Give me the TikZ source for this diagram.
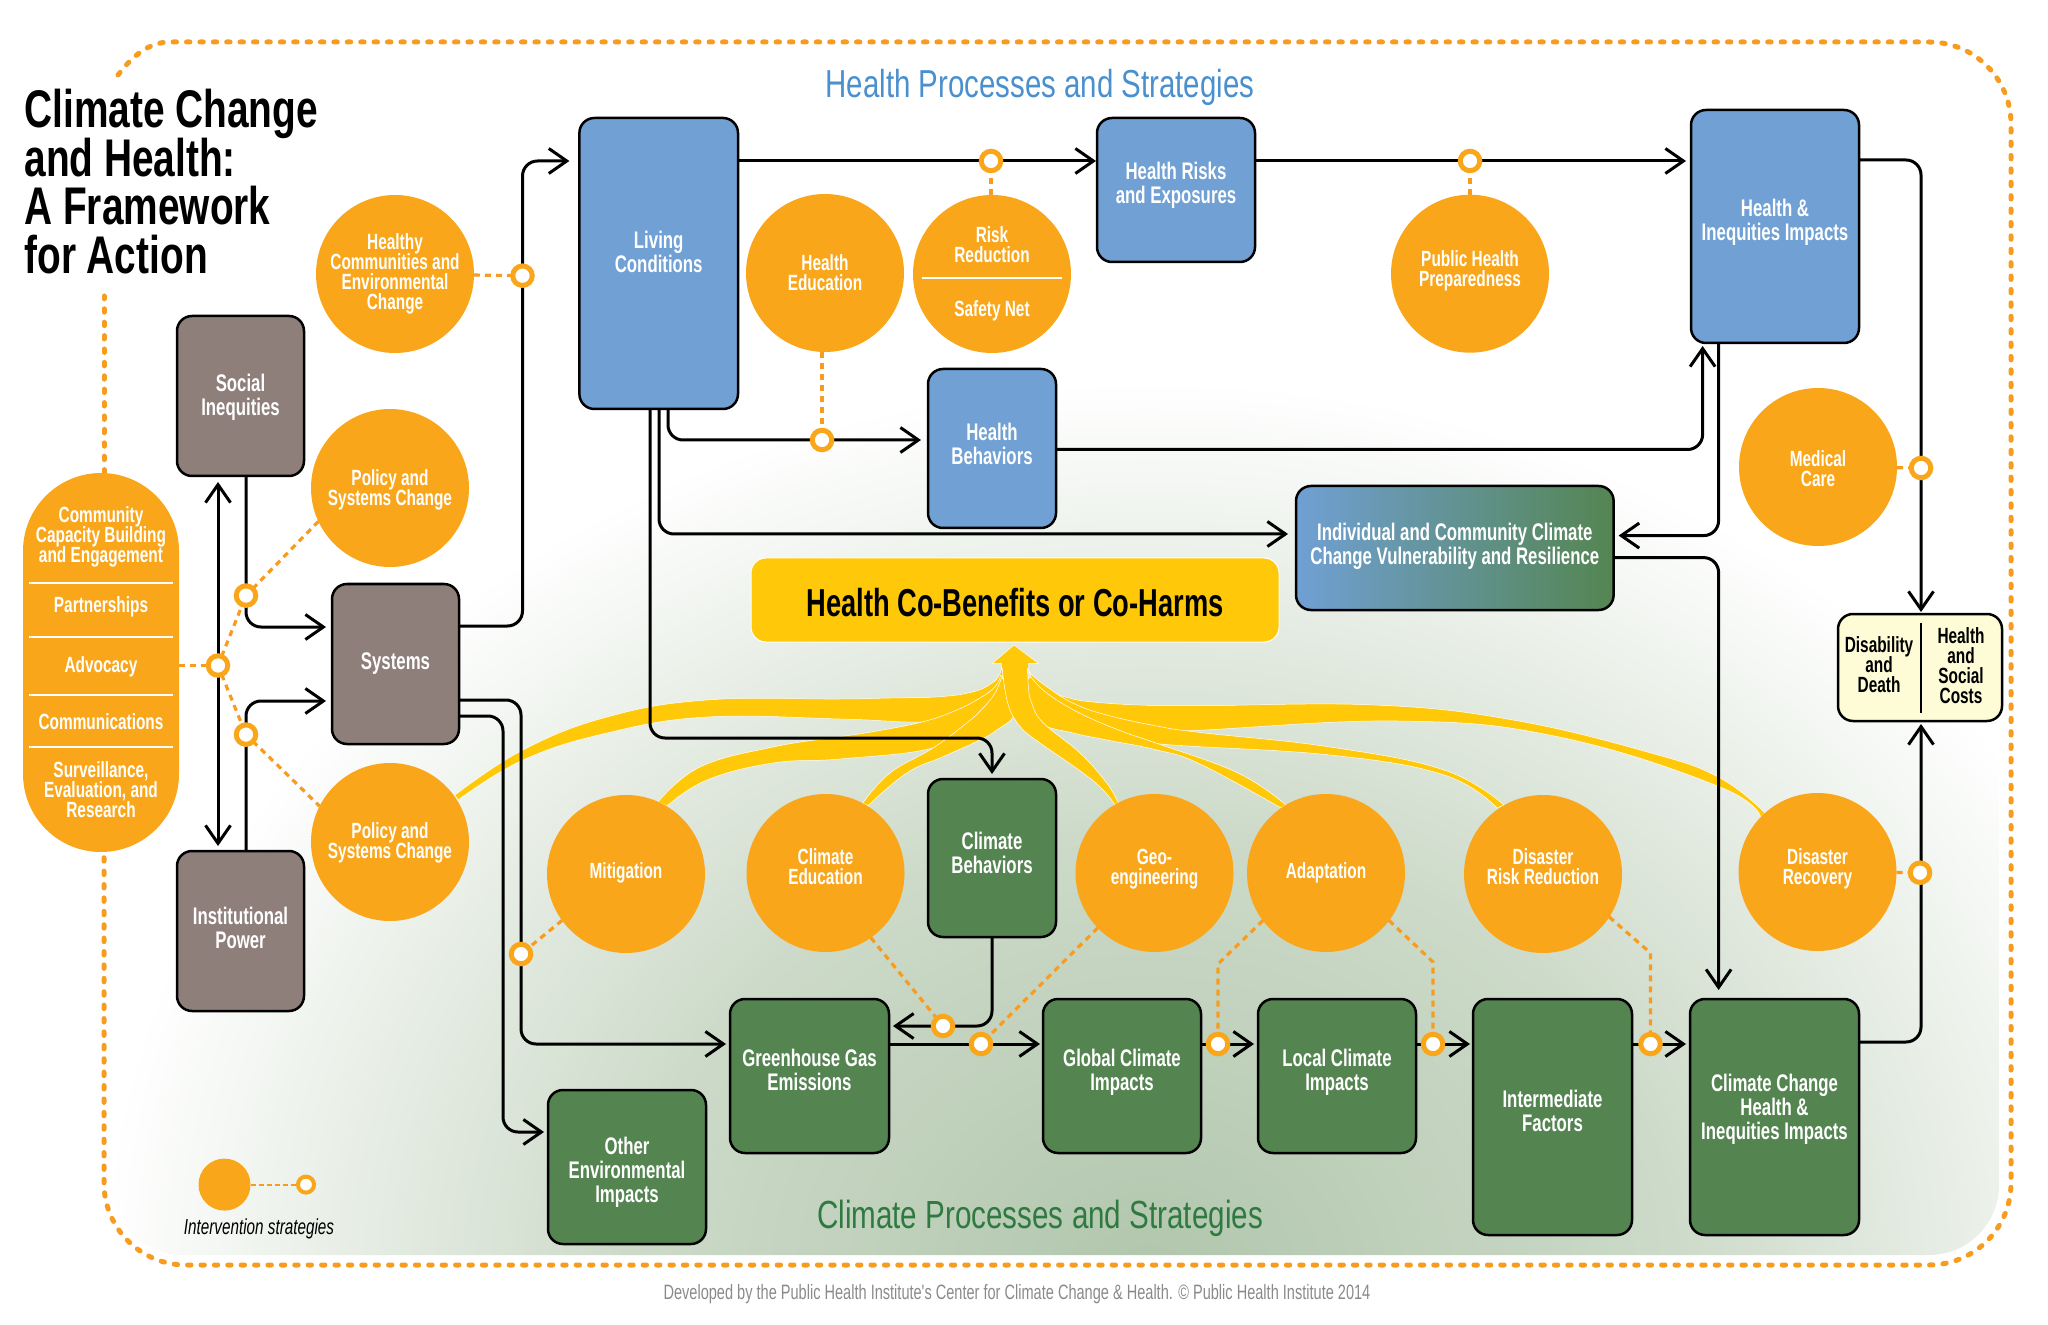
\documentclass[tikz,border=0pt]{standalone}
\usepackage{fontspec}
\usetikzlibrary{arrows.meta,backgrounds}
\newfontfamily\kfont[FakeStretch=0.7]{Liberation Sans}
\newfontfamily\kwide[FakeStretch=0.755]{Liberation Sans}
\newfontfamily\ktitle[FakeStretch=0.733]{Liberation Sans}
\lineskiplimit=-20pt
\pgfdeclareradialshading{kglow}{\pgfpointorigin}{rgb(0bp)=(0.694,0.776,0.678); rgb(12.5bp)=(0.804,0.855,0.788); rgb(25bp)=(1,1,1); rgb(50bp)=(1,1,1)}
\pgfdeclarelayer{kbase}
\pgfdeclarelayer{klines}
\pgfsetlayers{kbase,klines,main}
\newcommand{\kflow}[2]{\filldraw[kband] plot[smooth,tension=0.7] coordinates {#1} -- plot[smooth,tension=0.7] coordinates {#2} -- cycle;}
\tikzset{
  kbox/.style={rectangle,draw=black,line width=1.25pt,rounded corners=7.5pt,outer sep=0pt,inner sep=0pt,
    text=white,align=center,font=\kfont\bfseries\fontsize{12}{12}\selectfont},
  brownbox/.style={kbox,fill=kBrown,minimum width=63.5pt,minimum height=80pt},
  bluebox/.style={kbox,fill=kBlue},
  greenbox/.style={kbox,fill=kGreen},
  kcirc/.style={circle,fill=kOrange,minimum size=79pt,inner sep=0pt,outer sep=0pt,
    text=white,align=center,font=\kfont\bfseries\fontsize{11}{10}\selectfont},
  kring/.style={circle,draw=kOrange,fill=white,line width=2.5pt,minimum size=9.75pt,inner sep=0pt,outer sep=0pt},
  blacktext/.style={inner sep=0pt,align=center,font=\kfont\bfseries\fontsize{11}{10}\selectfont},
  klink/.style={draw=black,line width=1.5pt,rounded corners=7.5pt,shorten >=2.5pt,shorten <=0pt,
    >={Straight Barb[length=9pt,width=12.5pt]}},
  kdash/.style={draw=kDash,line width=1.6pt,dash pattern=on 3pt off 2.5pt},
  kborder/.style={draw=kDash,line width=2.5pt,line cap=round,dash pattern=on 1.7pt off 5pt},
  kband/.style={fill=kYellow,draw=white,line width=0.25pt},
  kline/.style={draw=white,line width=0.8pt}
}
\begin{document}
\begin{tikzpicture}[x=0.5pt,y=-0.5pt]
  \definecolor{kBrown}{HTML}{8E7F7B}
  \definecolor{kBlue}{HTML}{70A0D4}
  \definecolor{kGreen}{HTML}{548551}
  \definecolor{kOrange}{HTML}{FAA61A}
  \definecolor{kDash}{HTML}{F89C20}
  \definecolor{kYellow}{HTML}{FFC90A}
  \definecolor{kCream}{HTML}{FEFCD7}
  \definecolor{kHeadBlue}{HTML}{4A8FCE}
  \definecolor{kHeadGreen}{HTML}{2F7A41}
  \definecolor{kFoot}{HTML}{8A8A8A}
  \useasboundingbox (0,0) rectangle (2048,1325);

  \begin{pgfonlayer}{kbase}
    \begin{scope}
      \clip[rounded corners=35pt] (112,50) rectangle (1999,1255);
      \path[shading=kglow] (1150,1280) ellipse [x radius=1050,y radius=900];
    \end{scope}
    \kflow{(1001.7,666.7) (999.3,675) (991.7,683.3) (973.3,691.7) (940,696.7) (890,698) (840,699) (707,700) (607,717) (523,750) (455,795)}
          {(458,800) (523,760) (607,733) (707,717) (840,719) (923,722) (960,715) (990,695) (1003,675)}
    \kflow{(1000.7,675) (995,686.7) (980,698) (956.7,710) (923.3,721.7) (873,731.7) (840,736.7) (773,747) (700,767) (658,802)}
          {(667,806) (707,780) (773,763) (840,759) (933,748) (967,725) (985,712) (1000,690) (1003,678)}
    \kflow{(1001.3,678) (995,693) (983,708) (966.7,723) (933,748) (890,773) (862.7,803)}
          {(868,805.7) (906.7,773) (943,756.7) (980,740) (996.7,730) (1013.3,716.7) (1012,700) (1008,680)}
    \kflow{(1028.3,669.3) (1035,680) (1046.7,690) (1066.7,697.3) (1090,701.7) (1140,705) (1200,705.7) (1375,705) (1513,720) (1651,753) (1720,778) (1765,813)}
          {(1761,818) (1720,787) (1559,737) (1398,721) (1178,731) (1120,726) (1060,705) (1032,680)}
    \kflow{(1030,673.3) (1046.7,686.7) (1073.3,703.3) (1106.7,715) (1156.7,726) (1200,732.5) (1330,747) (1444,770) (1504,805)}
          {(1497,808) (1444,775) (1330,755) (1160,744) (1123,735) (1060,712) (1032,686)}
    \kflow{(1030.7,676.7) (1046.7,693) (1080,713.3) (1123,731.7) (1156.7,743.3) (1238,773) (1286,805)}
          {(1281,808) (1200,764) (1157,750) (1107,740) (1073,733) (1040,723) (1028,700) (1027,680)}
    \kflow{(1002,664) (1002.3,670) (1005,690) (1008.3,705) (1013.3,716.7) (1023.3,730) (1040,743) (1083,773) (1103,790) (1115,805)}
          {(1118.3,803) (1106.7,783) (1080,753) (1043.3,723) (1031.7,703) (1028.3,686.7) (1027.7,664)}
    \filldraw[kband] (1014,645) -- (1038.3,663.3) -- (992.3,663.3) -- cycle;
    \fill[kYellow] (1002,661) rectangle (1027.5,668);
  \end{pgfonlayer}

  \node[inner sep=0pt,anchor=north west,align=left,font=\ktitle\bfseries\fontsize{26.5}{24.3}\selectfont] (title) at (24,89)
    {Climate Change\\and Health:\\A Framework\\for Action};
  \node[inner sep=0pt,text=kHeadBlue,font=\kwide\fontsize{19.5}{20}\selectfont] (healthhead) at (1040,87) {Health Processes and Strategies};
  \node[inner sep=0pt,text=kHeadGreen,font=\kwide\fontsize{19.6}{20}\selectfont] (climhead) at (1040,1218) {Climate Processes and Strategies};
  \node[inner sep=0pt,text=kFoot,font=\kfont\fontsize{10.4}{10}\selectfont] (footer) at (1017,1294)
    {Developed by the Public Health Institute's Center for Climate Change \& Health. \textcopyright\ Public Health Institute 2014};

  \node[rectangle,fill=kOrange,rounded corners=39pt,minimum width=78pt,minimum height=189.5pt,inner sep=0pt,outer sep=0pt,
        text=white,align=center,font=\kfont\bfseries\fontsize{11}{10}\selectfont] (pill) at (101,662.5)
    {Community\\Capacity Building\\and Engagement\\[15pt]Partnerships\\[20pt]Advocacy\\[18.5pt]Communications\\[14pt]Surveillance,\\Evaluation, and\\Research};
  \foreach \y in {583,637,695,747}
    \draw[kline] ([xshift=3pt]pill.west |- 0,\y) -- ([xshift=-3pt]pill.east |- 0,\y);

  \node[brownbox,text height=22pt] (social) at (240.5,396) {Social\\Inequities};
  \node[brownbox] (systems) at (395.5,664) {Systems};
  \node[brownbox,text depth=3.3pt] (instit) at (240.5,931) {Institutional\\Power};

  \node[bluebox,minimum width=79.3pt,minimum height=145.5pt,text depth=11.4pt] (living) at (658.7,263.5) {Living\\Conditions};
  \node[bluebox,minimum width=79pt,minimum height=72pt,text depth=7pt] (risks) at (1176,190) {Health Risks\\and Exposures};
  \node[bluebox,minimum width=64pt,minimum height=79.5pt,text depth=4.5pt] (behav) at (992,448.5) {Health\\Behaviors};
  \node[bluebox,minimum width=84pt,minimum height=116.5pt,text depth=6.5pt] (impacts) at (1775,226.5) {Health \&\\Inequities Impacts};
  \node[kbox,left color=kBlue,right color=kGreen,minimum width=158.8pt,minimum height=62pt,text depth=4.5pt] (vuln) at (1454.8,548)
    {Individual and Community Climate\\Change Vulnerability and Resilience};
  \node[kbox,draw=white,line width=0.5pt,fill=kYellow,minimum width=264pt,minimum height=42pt,text=black,text height=16.5pt,
        font=\kfont\bfseries\fontsize{19.5}{19}\selectfont] (cobenefit) at (1015,600) {Health Co-Benefits or Co-Harms};

  \node[greenbox,minimum width=64pt,minimum height=79pt,text depth=5pt] (cbehav) at (992,858) {Climate\\Behaviors};
  \node[greenbox,minimum width=79.5pt,minimum height=77pt,text depth=6.5pt] (ghg) at (809.5,1076) {Greenhouse Gas\\Emissions};
  \node[greenbox,minimum width=79pt,minimum height=77pt,text depth=6.5pt] (global) at (1122,1076) {Global Climate\\Impacts};
  \node[greenbox,minimum width=79pt,minimum height=77pt,text depth=6.5pt] (local) at (1337,1076) {Local Climate\\Impacts};
  \node[greenbox,minimum width=79.5pt,minimum height=118pt,text depth=6.5pt] (inter) at (1552.5,1117) {Intermediate\\Factors};
  \node[greenbox,minimum width=84.5pt,minimum height=118pt,text depth=10pt] (climhealth) at (1774.5,1117) {Climate Change\\Health \&\\Inequities Impacts};
  \node[greenbox,minimum width=79pt,minimum height=77pt,text height=37.5pt] (other) at (627,1167) {Other\\Environmental\\Impacts};

  \node[kbox,fill=kCream,minimum width=82pt,minimum height=53.5pt] (disab) at (1920,667.5) {};
  \node[blacktext] (disabtext) at (1879,665) {Disability\\and\\Death};
  \node[blacktext] (coststext) at (1961,666) {Health\\and\\Social\\Costs};
  \draw[line width=1.25pt] (1921,623) -- (1921,713);

  \node[kcirc] (healthy) at (395,274) {Healthy\\Communities and\\Environmental\\Change};
  \node[kcirc,text height=20pt] (policyu) at (390,488) {Policy and\\Systems Change};
  \node[kcirc,text depth=1.5pt] (policyl) at (390,842) {Policy and\\Systems Change};
  \node[kcirc,text depth=3.5pt] (mitig) at (626,874) {Mitigation};
  \node[kcirc,text depth=6pt] (cedu) at (825.5,873) {Climate\\Education};
  \node[kcirc,text depth=6pt] (geo) at (1154.5,873) {Geo-\\engineering};
  \node[kcirc] (adapt) at (1326,873) {Adaptation};
  \node[kcirc,text depth=7.5pt] (drr) at (1543,874) {Disaster\\Risk Reduction};
  \node[kcirc,text depth=5pt] (recov) at (1817.5,872) {Disaster\\Recovery};
  \node[kcirc,text height=19.5pt] (care) at (1818,467) {Medical\\Care};
  \node[kcirc,text depth=5pt] (prep) at (1470,273.7) {Public Health\\Preparedness};
  \node[kcirc] (hedu) at (825,273) {Health\\Education};
  \node[kcirc] (risk) at (992,274) {Risk\\Reduction\\[17pt]Safety Net};
  \draw[kline] ([xshift=-35pt,yshift=-2pt]risk.center) -- ([xshift=35pt,yshift=-2pt]risk.center);

  \node[kring] (ring1) at (522.5,275.7) {};
  \node[kring] (ring2) at (246,595.6) {};
  \node[kring] (ring3) at (218,665.5) {};
  \node[kring] (ring4) at (246,734.6) {};
  \node[kring] (ring5) at (521,954) {};
  \node[kring] (ringrisk) at (991,161) {};
  \node[kring] (ringedu) at (822,440) {};
  \node[kring] (ringprep) at (1470,161) {};
  \node[kring] (ringcare) at (1921,468) {};
  \node[kring] (ringrec) at (1920,872.7) {};
  \node[kring] (ringcedu) at (943,1026) {};
  \node[kring] (ringgeo) at (981,1044) {};
  \node[kring] (ringadapt) at (1218,1044) {};
  \node[kring] (ringadapt2) at (1433,1044) {};
  \node[kring] (ringdrr) at (1650.5,1044) {};

  \node[circle,fill=kOrange,minimum size=26pt,inner sep=0pt,outer sep=0pt] (legcirc) at (224.5,1184.6) {};
  \node[kring,line width=2pt,minimum size=8pt] (legring) at (306,1184.6) {};
  \node[inner sep=0pt,font=\kfont\itshape\fontsize{10.9}{10}\selectfont] (legtext) at (259,1229) {Intervention strategies};

  \begin{pgfonlayer}{klines}
    \draw[kborder] (118,75) .. controls (133,55) and (150,42) .. (170,42) [rounded corners=41pt] -- (2011,42) -- (2011,1265) -- (104,1265) -- (104 ,852);
    \draw[kborder] (104,473) -- (104,296);

    \draw[klink,<->,shorten <=3pt] (social.south -| ring3) -- (instit.north -| ring3);
    \draw[klink,->,shorten >=3pt] (social.south -| ring2) |- (systems.west |- 0,627);
    \draw[klink,->,shorten >=3pt] (instit.north -| ring4) |- (systems.west |- 0,701);
    \draw[klink,->,shorten >=5pt] (systems.east |- 0,626) -| (ring1.center) |- (living.west |- 0,161);
    \draw[klink,->,shorten >=2pt] (systems.east |- 0,700) -| (ring5.center) |- (ghg.west |- 0,1044);
    \draw[klink,->,shorten >=2pt] (systems.east |- 0,716) -- (503,716) |- (other.west |- 0,1132);
    \draw[klink,->,shorten >=0.5pt] (living.east |- ringrisk) -- (risks.west |- ringrisk);
    \draw[klink,->] (risks.east |- ringprep) -- (impacts.west |- ringprep);
    \draw[klink,->,shorten >=3.5pt] (living.south -| 668,0) |- (behav.west |- ringedu);
    \draw[klink,->,shorten >=4pt] (living.south -| 659,0) |- (vuln.west |- 0,534);
    \draw[klink,->] (living.south -| 650,0) |- (cbehav.north |- 0,738) -- (cbehav.north);
    \draw[klink,->,shorten >=1.5pt] (behav.east |- 0,449.5) -| (impacts.south -| 1702.6,0);
    \draw[klink,->] (impacts.south -| 1718.6,0) |- (vuln.east |- 0,535.6);
    \draw[klink,->,shorten >=4.5pt] (vuln.east |- 0,557.6) -| (climhealth.north -| 1718.6,0);
    \draw[klink,->,shorten >=1pt] (impacts.east |- 0,160) -| (disab.north -| ringcare);
    \draw[klink,->,shorten >=1.5pt] (climhealth.east |- 0,1042) -| (disab.south -| ringcare);
    \draw[klink,->,shorten >=2pt] (cbehav.south) |- (ghg.east |- ringcedu);
    \draw[klink,->,shorten >=1.5pt] (ghg.east |- ringgeo) -- (global.west |- ringgeo);
    \draw[klink,->,shorten >=2pt] (global.east |- ringadapt) -- (local.west |- ringadapt);
    \draw[klink,->,shorten >=1.5pt] (local.east |- ringadapt2) -- (inter.west |- ringadapt2);
    \draw[klink,->,shorten >=2pt] (inter.east |- ringdrr) -- (climhealth.west |- ringdrr);

    \draw[kdash] (pill.east |- ring3) -- (ring3);
    \draw[kdash] (ring3) -- (ring2);
    \draw[kdash] (ring3) -- (ring4);
    \draw[kdash] (ring2) -- (policyu.205);
    \draw[kdash] (ring4) -- (policyl.153);
    \draw[kdash] (healthy) -- (ring1);
    \draw[kdash] (mitig.216) -- (ring5);
    \draw[kdash] (hedu.south -| ringedu) -- (ringedu);
    \draw[kdash] (risk.north -| ringrisk) -- (ringrisk);
    \draw[kdash] (prep) -- (ringprep);
    \draw[kdash] (care) -- (ringcare);
    \draw[kdash] (recov) -- (ringrec);
    \draw[kdash] (cedu.305) -- (ringcedu);
    \draw[kdash] (geo.224) -- (ringgeo);
    \draw[kdash] (adapt.217) -- (1218,964) -- (ringadapt);
    \draw[kdash] (adapt.323) -- (1433,962) -- (ringadapt2);
    \draw[kdash] (drr.327) -- (1650.5,953) -- (ringdrr);
    \draw[kdash,line width=1pt,dash pattern=on 2.5pt off 1.5pt] (legcirc) -- (legring);
  \end{pgfonlayer}
\end{tikzpicture}
\end{document}
